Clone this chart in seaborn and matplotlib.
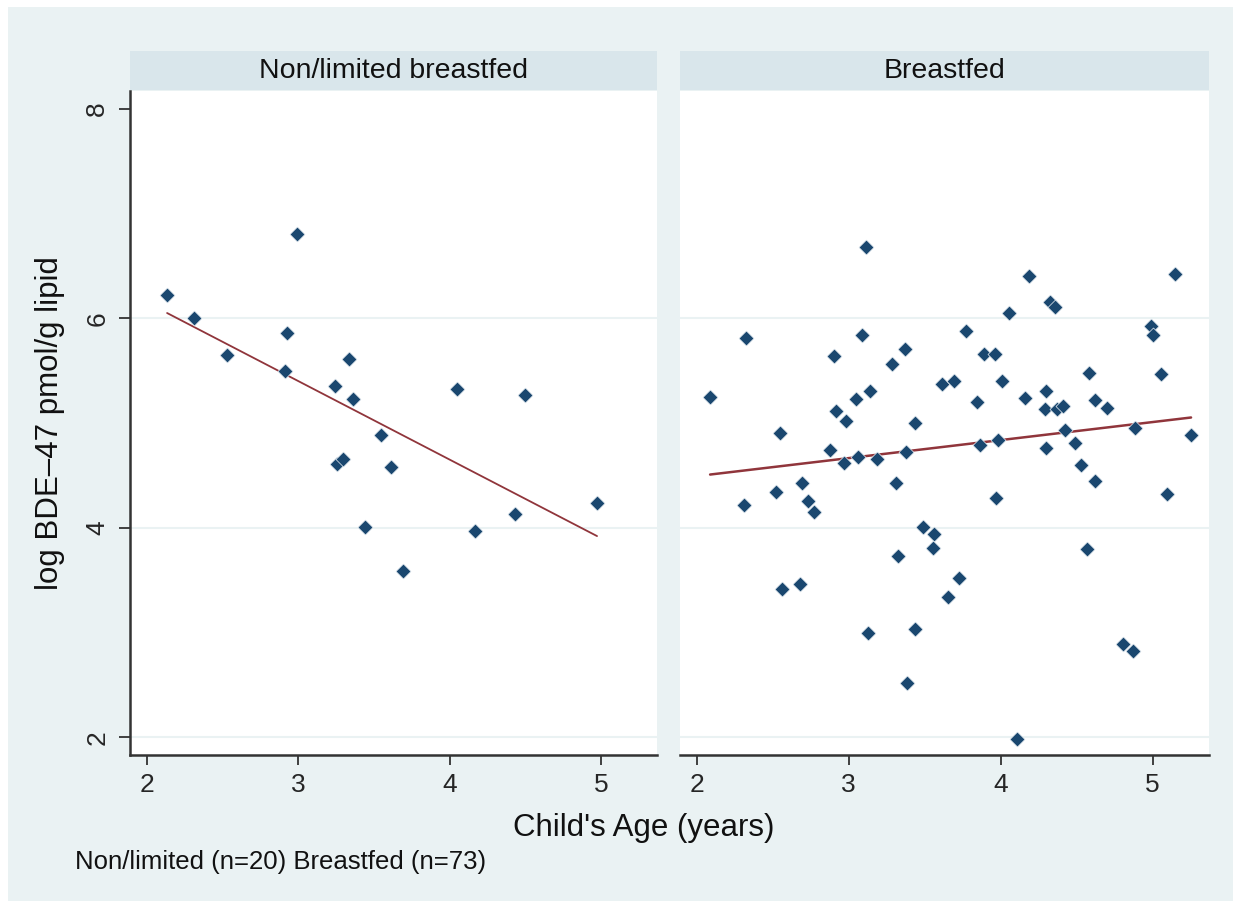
import numpy as np
import pandas as pd
import matplotlib
matplotlib.use("Agg")
import matplotlib.pyplot as plt
from matplotlib.patches import Rectangle
import seaborn as sns

# ---- data ----
groups = ["Non/limited breastfed", "Breastfed"]

nonlim_age = [2.135, 2.31, 2.53, 2.994, 2.926, 2.915, 3.333, 3.245, 3.363, 3.548,
              3.258, 3.297, 3.614, 3.443, 4.049, 4.497, 4.974, 4.431, 4.167, 3.693]
nonlim_bde = [6.22, 6.00, 5.65, 6.80, 5.86, 5.50, 5.61, 5.35, 5.23, 4.89,
              4.61, 4.66, 4.58, 4.01, 5.33, 5.27, 4.24, 4.13, 3.97, 3.59]

bf_age = [3.115, 2.325, 3.087, 2.902, 3.368, 3.287, 2.088, 3.049, 3.142, 2.916,
          2.984, 2.549, 3.434, 3.616, 2.878, 2.970, 3.062, 3.186, 3.379, 2.694,
          3.313, 2.52, 2.312, 2.733, 2.773, 3.486, 3.563, 3.552, 3.326, 2.562,
          2.681, 3.653, 3.128, 3.434, 3.381, 3.723, 4.183, 5.149, 4.327, 4.358,
          4.053, 3.774, 4.986, 5.001, 3.893, 3.961, 3.695, 4.011, 4.580, 5.054,
          3.842, 4.158, 4.301, 4.288, 4.371, 4.411, 4.617, 4.696, 4.422, 4.488,
          4.885, 5.252, 3.866, 3.985, 4.301, 4.527, 4.617, 3.972, 5.096, 4.567,
          4.802, 4.872, 4.106]
bf_bde = [6.68, 5.81, 5.84, 5.64, 5.71, 5.56, 5.25, 5.23, 5.31, 5.12,
          5.02, 4.91, 5.00, 5.37, 4.74, 4.62, 4.68, 4.66, 4.72, 4.43,
          4.43, 4.34, 4.22, 4.26, 4.15, 4.01, 3.94, 3.81, 3.73, 3.42,
          3.46, 3.34, 3.00, 3.04, 2.52, 3.52, 6.40, 6.42, 6.16, 6.11,
          6.05, 5.88, 5.93, 5.84, 5.66, 5.66, 5.40, 5.40, 5.48, 5.47,
          5.20, 5.24, 5.31, 5.13, 5.13, 5.16, 5.22, 5.14, 4.93, 4.81,
          4.95, 4.89, 4.79, 4.84, 4.76, 4.60, 4.45, 4.29, 4.32, 3.80,
          2.89, 2.83, 1.99]

x_ticks = [2, 3, 4, 5]
y_ticks = [2, 4, 6, 8]

df = pd.DataFrame({
    "age": nonlim_age + bf_age,
    "bde": nonlim_bde + bf_bde,
    "group": [groups[0]] * len(nonlim_age) + [groups[1]] * len(bf_age),
})

# ---- style ----
sns.set_theme(style="white")
plt.rcParams["font.family"] = ["Liberation Sans", "DejaVu Sans"]

BG = "#EAF2F3"
STRIP = "#D9E6EB"
NAVY = "#1A476F"
MAROON = "#90353B"
GRID = "#EAF2F3"

W, H = 1241, 909
fig = plt.figure(figsize=(W / 100, H / 100), dpi=100)
fig.patch.set_facecolor("white")
frame = Rectangle((8 / W, 1 - 901 / H), (1233 - 8) / W, (901 - 7) / H,
                  transform=fig.transFigure, facecolor=BG,
                  edgecolor="none", zorder=-10)
fig.add_artist(frame)

def fx(px):
    return px / W

def fy(py):
    return 1 - py / H

ax_bottom = fy(755)
ax_h = fy(91) - fy(755)
panels = [(130, 657), (680, 1209)]
line_widths = [1.3, 1.8]
axes = []
for i, (g, (x0, x1)) in enumerate(zip(groups, panels)):
    ax = fig.add_axes([fx(x0), ax_bottom, fx(x1) - fx(x0), ax_h])
    ax.set_zorder(1)
    ax.set_facecolor("white")
    sub = df[df["group"] == g]
    sns.regplot(data=sub, x="age", y="bde", ax=ax, ci=None, marker="D",
                truncate=True,
                scatter_kws=dict(color=NAVY, s=58, linewidths=0.5,
                                 edgecolors="#E8EEF3", alpha=1, zorder=3),
                line_kws=dict(color=MAROON, lw=line_widths[i], zorder=2))
    ax.set_xlim(1.89, 5.37)
    ax.set_ylim(1.833, 8.169)
    ax.set_xticks(x_ticks)
    ax.set_yticks(y_ticks)
    ax.set_xlabel("")
    ax.set_ylabel("")
    ax.yaxis.grid(True, color=GRID, lw=1.5, zorder=0)
    ax.get_ygridlines()[-1].set_visible(False)
    ax.xaxis.grid(False)
    ax.set_axisbelow(True)
    for s in ["top", "right"]:
        ax.spines[s].set_visible(False)
    ax.spines["bottom"].set_color("#333333")
    ax.spines["bottom"].set_linewidth(1.8)
    ax.tick_params(axis="x", direction="out", length=7, width=1.2,
                   color="#222222", labelsize=19, pad=6, bottom=True)
    if i == 0:
        ax.spines["left"].set_color("#333333")
        ax.spines["left"].set_linewidth(1.8)
        ax.tick_params(axis="y", direction="out", length=8, width=1.2,
                       color="#222222", labelsize=19, pad=7, left=True)
        for lab in ax.get_yticklabels():
            lab.set_rotation(90)
            lab.set_va("center")
    else:
        ax.spines["left"].set_visible(False)
        ax.tick_params(axis="y", left=False, labelleft=False)
    axes.append(ax)

    # strip title
    sax = fig.add_axes([fx(x0), fy(90), fx(x1) - fx(x0), fy(51) - fy(90)])
    sax.set_zorder(1)
    sax.set_facecolor(STRIP)
    sax.set_xticks([])
    sax.set_yticks([])
    for s in sax.spines.values():
        s.set_visible(False)
    sax.text(0.5, 0.5, g, ha="center", va="center", fontsize=20.5,
             color="#111111", transform=sax.transAxes)

fig.text(fx(50), fy(423), "log BDE\u201347 pmol/g lipid", rotation=90,
         ha="center", va="center", fontsize=22.5, color="#111111")
fig.text(fx(644), fy(828), "Child's Age (years)", ha="center", va="center",
         fontsize=22.5, color="#111111")
fig.text(fx(75), fy(862), "Non/limited (n=20) Breastfed (n=73)", ha="left",
         va="center", fontsize=18.5, color="#111111")

fig.savefig("out.png", dpi=100, facecolor=fig.get_facecolor())
